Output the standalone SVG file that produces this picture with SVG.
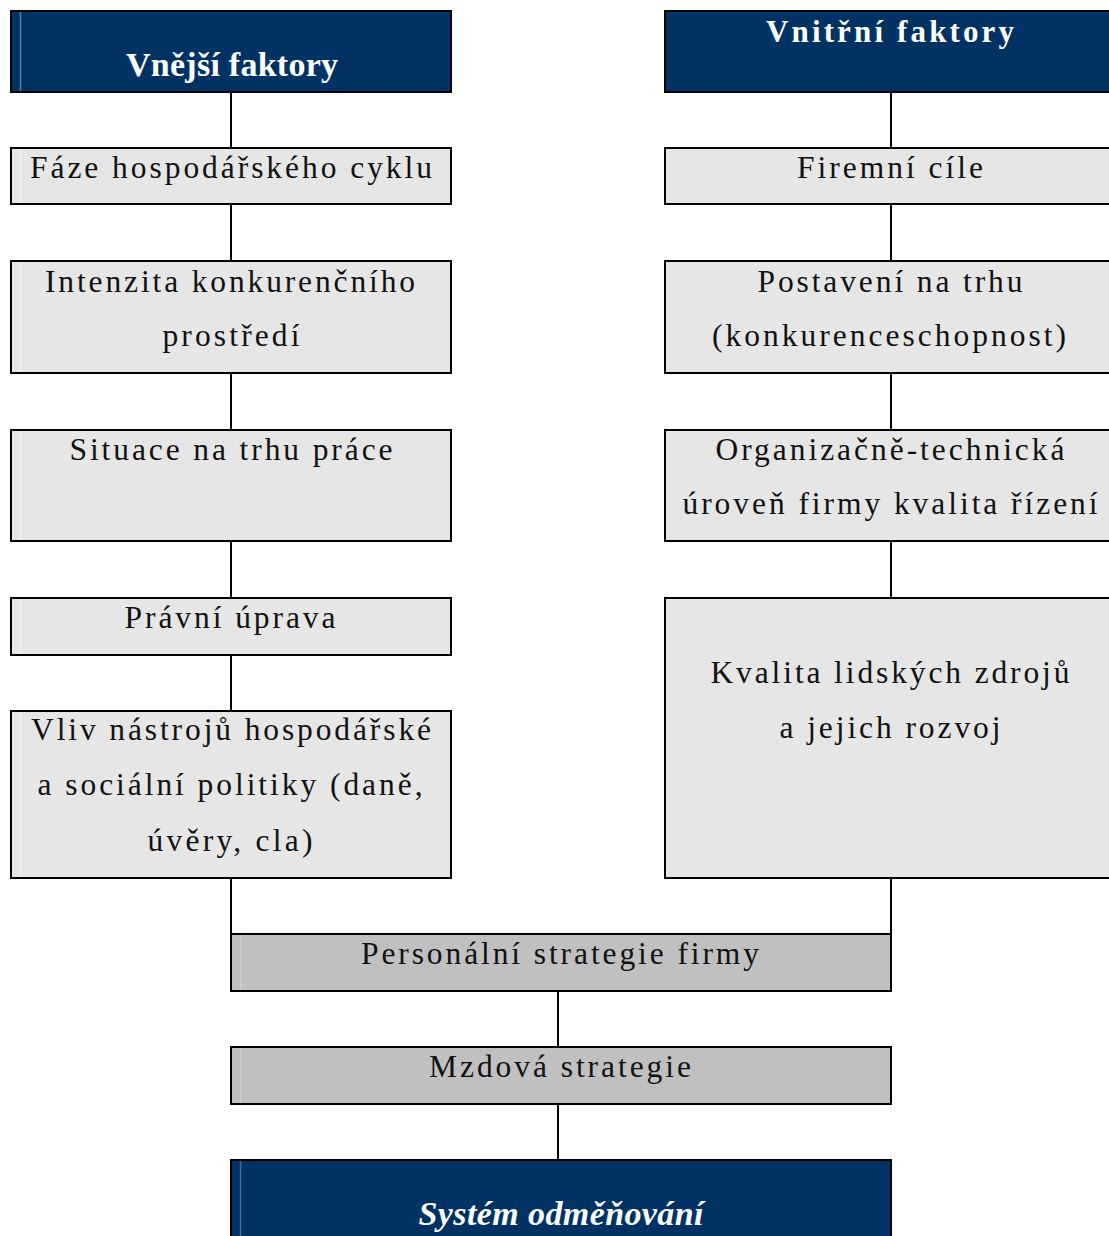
<svg xmlns="http://www.w3.org/2000/svg" width="1109" height="1236" viewBox="0 0 1109 1236">
<style>
.box{stroke:#000;stroke-width:2}
.navy{fill:#003264}
.lg{fill:#e6e6e6}
.mg{fill:#c0c0c0}
.t{font-family:"Liberation Serif","Times New Roman",serif;font-size:31.5px;fill:#111;text-anchor:middle}
.h{font-family:"Liberation Serif","Times New Roman",serif;font-weight:bold;fill:#fff;text-anchor:middle}
.edge{stroke:#000;stroke-width:2;fill:none}
.hl{stroke-width:1.5}
</style>
<rect width="1109" height="1236" fill="#fff"/>
<g id="connectors">
<path class="edge" d="M231 92V148M231 204V261M231 373V430M231 541V598M231 655V711M231 878V934"/>
<path class="edge" d="M891 92V148M891 204V261M891 373V430M891 541V598M891 878V934"/>
<path class="edge" d="M558 991V1047M558 1104V1160"/>
</g>
<g id="vnejsi">
<rect class="box navy" x="11" y="11" width="440" height="81"/>
<line x1="20.5" y1="12" x2="20.5" y2="91" stroke="#5f7ea6" class="hl"/>
<text class="h" x="232" y="76" font-size="34" textLength="212">Vnější faktory</text>
</g>
<g id="vnitrni">
<rect class="box navy" x="665" y="11" width="450" height="81"/>
<text class="h" x="890" y="42" font-size="31" textLength="248">Vnitřní faktory</text>
</g>
<g id="faze">
<rect class="box lg" x="11" y="148" width="440" height="56"/>
<line x1="20.5" y1="149" x2="20.5" y2="203" stroke="#f2f2f2" class="hl"/>
<text class="t" x="231" y="178" textLength="402">Fáze hospodářského cyklu</text>
</g>
<g id="firemni">
<rect class="box lg" x="665" y="148" width="450" height="56"/>
<text class="t" x="890" y="178" textLength="186">Firemní cíle</text>
</g>
<g id="intenzita">
<rect class="box lg" x="11" y="261" width="440" height="112"/>
<line x1="20.5" y1="262" x2="20.5" y2="372" stroke="#f2f2f2" class="hl"/>
<text class="t" x="230" y="292" textLength="370">Intenzita konkurenčního</text>
<text class="t" x="231" y="346" textLength="137">prostředí</text>
</g>
<g id="postaveni">
<rect class="box lg" x="665" y="261" width="450" height="112"/>
<text class="t" x="890" y="292" textLength="265">Postavení na trhu</text>
<text class="t" x="889" y="346" textLength="354">(konkurenceschopnost)</text>
</g>
<g id="situace">
<rect class="box lg" x="11" y="430" width="440" height="111"/>
<line x1="20.5" y1="431" x2="20.5" y2="540" stroke="#f2f2f2" class="hl"/>
<text class="t" x="231" y="460" textLength="323">Situace na trhu práce</text>
</g>
<g id="organizacne">
<rect class="box lg" x="665" y="430" width="450" height="111"/>
<text class="t" x="890" y="460" textLength="349">Organizačně-technická</text>
<text class="t" x="890" y="514" textLength="415">úroveň firmy kvalita řízení</text>
</g>
<g id="pravni">
<rect class="box lg" x="11" y="598" width="440" height="57"/>
<line x1="20.5" y1="599" x2="20.5" y2="654" stroke="#f2f2f2" class="hl"/>
<text class="t" x="230" y="628" textLength="211">Právní úprava</text>
</g>
<g id="kvalita">
<rect class="box lg" x="665" y="598" width="450" height="280"/>
<text class="t" x="890" y="683" textLength="359">Kvalita lidských zdrojů</text>
<text class="t" x="890" y="738" textLength="221">a jejich rozvoj</text>
</g>
<g id="vliv">
<rect class="box lg" x="11" y="711" width="440" height="167"/>
<line x1="20.5" y1="712" x2="20.5" y2="877" stroke="#f2f2f2" class="hl"/>
<text class="t" x="231" y="740" textLength="400">Vliv nástrojů hospodářské</text>
<text class="t" x="230" y="795" textLength="385">a sociální politiky (daně,</text>
<text class="t" x="230" y="851" textLength="165">úvěry, cla)</text>
</g>
<g id="personalni">
<rect class="box mg" x="231" y="934" width="660" height="57"/>
<line x1="240.5" y1="935" x2="240.5" y2="990" stroke="#cfcfcf" class="hl"/>
<text class="t" x="560" y="964" textLength="398">Personální strategie firmy</text>
</g>
<g id="mzdova">
<rect class="box mg" x="231" y="1047" width="660" height="57"/>
<line x1="240.5" y1="1048" x2="240.5" y2="1103" stroke="#cfcfcf" class="hl"/>
<text class="t" x="560" y="1077" textLength="262">Mzdová strategie</text>
</g>
<g id="system">
<rect class="box navy" x="231" y="1160" width="660" height="90"/>
<line x1="240.5" y1="1161" x2="240.5" y2="1236" stroke="#4a6a94" class="hl"/>
<text class="h" x="561" y="1225" font-size="34" font-style="italic" textLength="285">Systém odměňování</text>
</g>
</svg>
